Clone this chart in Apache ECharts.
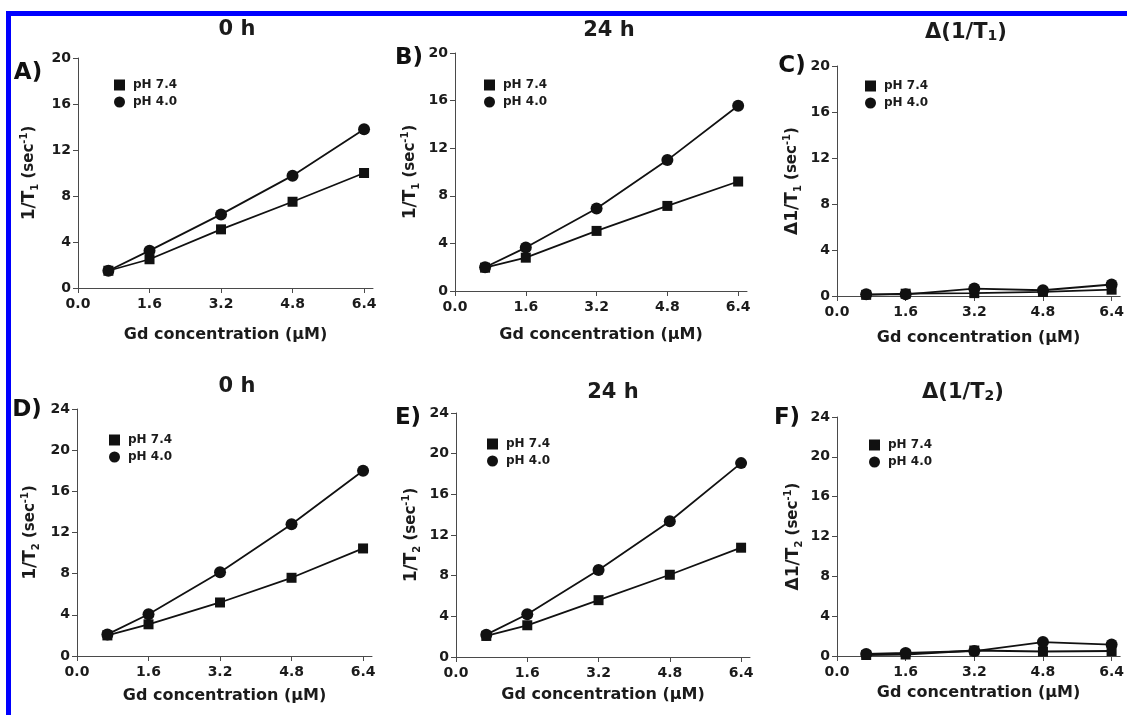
<!DOCTYPE html>
<html>
<head>
<meta charset="utf-8">
<script src="https://cdn.jsdelivr.net/npm/echarts@6/dist/echarts.min.js"></script>
<style>
html,body{margin:0;padding:0;background:#fff;}
#chart{width:1127px;height:715px;}
</style>
</head>
<body>
<div id="chart"></div>
<script>
// ---------------- data ----------------
const xConc = [0.68, 1.6, 3.2, 4.8, 6.4];
const xTicks = [0, 1.6, 3.2, 4.8, 6.4];
const yTicksT1 = [0, 4, 8, 12, 16, 20];
const yTicksT2 = [0, 4, 8, 12, 16, 20, 24];
const seriesNames = ['pH 7.4', 'pH 4.0'];

const A_pH74 = [1.5, 2.5, 5.1, 7.5, 10.0];
const A_pH40 = [1.5, 3.25, 6.4, 9.77, 13.8];
const B_pH74 = [1.96, 2.8, 5.05, 7.15, 9.2];
const B_pH40 = [2.0, 3.65, 6.93, 11.0, 15.57];
const C_pH74 = [0.1, 0.2, 0.25, 0.35, 0.55];
const C_pH40 = [0.15, 0.15, 0.65, 0.5, 1.0];
const D_pH74 = [2.0, 3.08, 5.2, 7.6, 10.45];
const D_pH40 = [2.1, 4.06, 8.14, 12.8, 18.0];
const E_pH74 = [2.07, 3.12, 5.59, 8.09, 10.75];
const E_pH40 = [2.2, 4.21, 8.55, 13.35, 19.07];
const F_pH74 = [0.1, 0.15, 0.55, 0.45, 0.5];
const F_pH40 = [0.2, 0.3, 0.5, 1.4, 1.15];

const xAxisName = 'Gd concentration (\u00b5M)';
const panelTitles = ['0 h', '24 h', '\u0394(1/T{s|1})', '0 h', '24 h', '\u0394(1/T{s|2})'];
const panelLetters = ['A)', 'B)', 'C)', 'D)', 'E)', 'F)'];
const yNames = [
  '{n|1/T}{s|1}{m| (sec}{p|-1}{m|)}',
  '{n|1/T}{s|1}{m| (sec}{p|-1}{m|)}',
  '{n|\u03941/T}{s|1}{m| (sec}{p|-1}{m|)}',
  '{n|1/T}{s|2}{m| (sec}{p|-1}{m|)}',
  '{n|1/T}{s|2}{m| (sec}{p|-1}{m|)}',
  '{n|\u03941/T}{s|2}{m| (sec}{p|-1}{m|)}'
];

// ---------------- layout (styles / positions) ----------------
const panels = [
  {grid:{left:78, top:58, width:295, height:230}, ymax:20, yt:yTicksT1, d:[A_pH74,A_pH40], yGap:38, xGap:39, title:[237,30], letter:[28,73], legend:[109,74]},
  {grid:{left:455, top:53, width:292, height:238}, ymax:20, yt:yTicksT1, d:[B_pH74,B_pH40], yGap:34, xGap:36, title:[609,31], letter:[409,58], legend:[479,74]},
  {grid:{left:837, top:66, width:286, height:230}, ymax:20, yt:yTicksT1, d:[C_pH74,C_pH40], yGap:34, xGap:34, title:[966,33], letter:[792,66], legend:[860,75]},
  {grid:{left:77, top:409, width:295, height:247}, ymax:24, yt:yTicksT2, d:[D_pH74,D_pH40], yGap:36, xGap:32, title:[237,387], letter:[27,410], legend:[104,429]},
  {grid:{left:456, top:413, width:294, height:244}, ymax:24, yt:yTicksT2, d:[E_pH74,E_pH40], yGap:34, xGap:30, title:[613,393], letter:[408,418], legend:[482,433]},
  {grid:{left:837, top:417, width:286, height:239}, ymax:24, yt:yTicksT2, d:[F_pH74,F_pH40], yGap:33, xGap:29, title:[963,393], letter:[787,418], legend:[864,434]}
];

const FONT = '"DejaVu Sans", "Liberation Sans", Arial, sans-serif';
const TXT = '#1b1b1b';
const AX = '#4a4a4a';

const grids = [], xAxes = [], yAxes = [], series = [], legends = [], graphics = [];

panels.forEach((p, i) => {
  grids.push(Object.assign({containLabel:false}, p.grid));
  xAxes.push({
    type:'value', gridIndex:i, min:0, max:6.6, interval:1.6,
    name:xAxisName, nameLocation:'middle', nameGap:p.xGap,
    nameTextStyle:{fontFamily:FONT, fontWeight:'bold', fontSize:16, color:TXT},
    axisLine:{show:true, onZero:false, lineStyle:{color:AX, width:1}},
    axisTick:{show:true, inside:false, length:5, lineStyle:{color:AX}, customValues:xTicks},
    axisLabel:{customValues:xTicks, formatter:v => Number(v).toFixed(1), fontFamily:FONT, fontWeight:'bold', fontSize:14, color:TXT, margin:9},
    splitLine:{show:false}
  });
  yAxes.push({
    type:'value', gridIndex:i, min:0, max:p.ymax, interval:4,
    name:yNames[i], nameLocation:'middle', nameGap:p.yGap, nameRotate:90,
    nameTextStyle:{
      fontFamily:FONT, color:TXT,
      rich:{
        n:{fontFamily:FONT, fontWeight:'bold', fontSize:17, lineHeight:21, color:TXT},
        m:{fontFamily:FONT, fontWeight:'bold', fontSize:15, lineHeight:21, color:TXT},
        s:{fontFamily:FONT, fontWeight:'bold', fontSize:10, lineHeight:10, verticalAlign:'bottom', color:TXT},
        p:{fontFamily:FONT, fontWeight:'bold', fontSize:10, lineHeight:10, verticalAlign:'top', color:TXT}
      }
    },
    axisLine:{show:true, onZero:false, lineStyle:{color:AX, width:1}},
    axisTick:{show:true, inside:false, length:5, lineStyle:{color:AX}, customValues:p.yt},
    axisLabel:{customValues:p.yt, fontFamily:FONT, fontWeight:'bold', fontSize:14, color:TXT, margin:7},
    splitLine:{show:false}
  });
  const syms = ['rect', 'circle'];
  const sizes = [10, 12];
  p.d.forEach((vals, k) => {
    series.push({
      type:'line', name:seriesNames[k], xAxisIndex:i, yAxisIndex:i,
      data:xConc.map((x, j) => [x, vals[j]]),
      symbol:syms[k], symbolSize:sizes[k], showSymbol:true,
      lineStyle:{color:'#111', width:1.8},
      itemStyle:{color:'#111', borderWidth:0},
      z: 3 + k,
      emphasis:{disabled:true}, animation:false
    });
  });
  legends.push({
    orient:'vertical', left:p.legend[0], top:p.legend[1],
    itemWidth:11, itemHeight:11, itemGap:5,
    data:[{name:seriesNames[0], icon:'rect'}, {name:seriesNames[1], icon:'circle'}],
    itemStyle:{color:'#111'},
    textStyle:{fontFamily:FONT, fontWeight:'bold', fontSize:12, color:TXT, padding:[0,0,0,3]},
    selectedMode:false
  });
  graphics.push({
    type:'text', x:p.title[0], y:p.title[1],
    style:{
      text:panelTitles[i], align:'center', verticalAlign:'middle', fill:TXT,
      font:'bold 21px ' + FONT,
      rich:{s:{fontFamily:FONT, fontWeight:'bold', fontSize:14, lineHeight:14, verticalAlign:'bottom', fill:TXT}}
    }
  });
  graphics.push({
    type:'text', x:p.letter[0], y:p.letter[1],
    style:{text:panelLetters[i], align:'center', verticalAlign:'middle', fill:'#111', font:'bold 23px ' + FONT}
  });
});

// blue frame (top and left edges)
graphics.push({type:'rect', shape:{x:6, y:11, width:1121, height:5}, style:{fill:'#0000ff'}, z:10});
graphics.push({type:'rect', shape:{x:6, y:11, width:5, height:704}, style:{fill:'#0000ff'}, z:10});

const chart = echarts.init(document.getElementById('chart'), null, {renderer:'canvas'});
chart.setOption({
  backgroundColor:'#ffffff',
  animation:false,
  grid:grids, xAxis:xAxes, yAxis:yAxes, series:series, legend:legends,
  graphic:graphics
});
</script>
</body>
</html>
